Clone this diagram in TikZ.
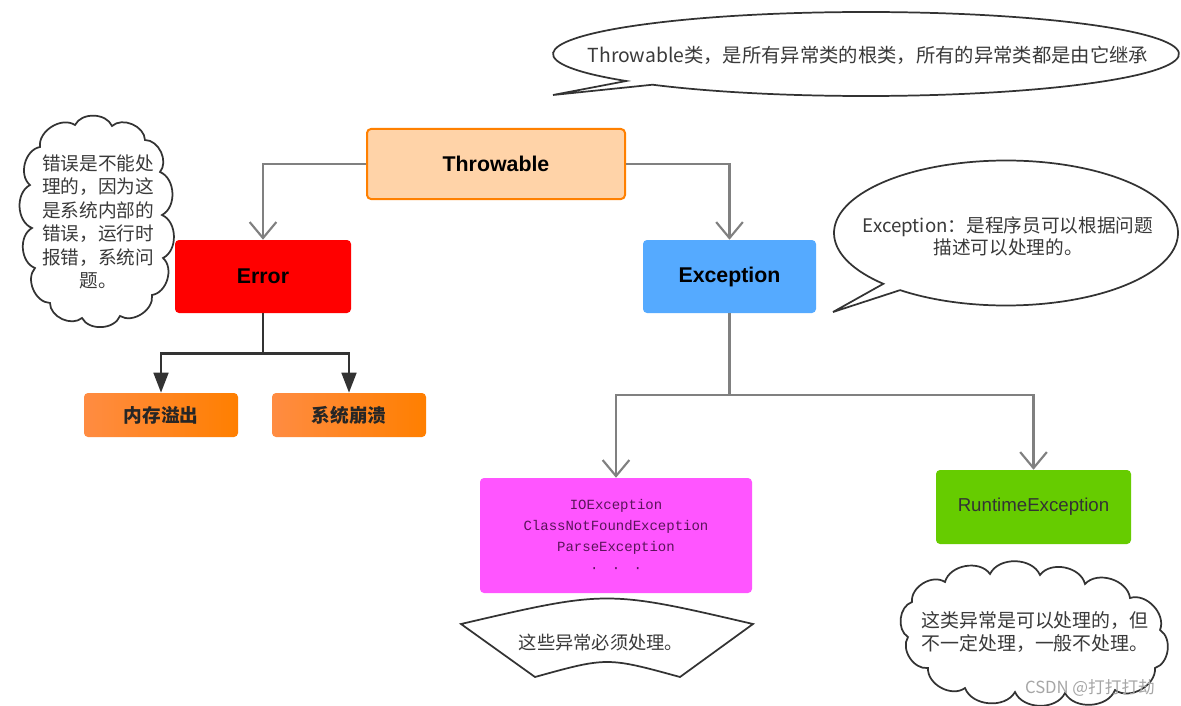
\documentclass[tikz,border=0pt]{standalone}
\usepackage{fontspec}
\setmainfont{Liberation Sans}
\newfontfamily\cjk{Noto Sans CJK SC}
\newfontfamily\monof{Liberation Mono}
\usetikzlibrary{arrows.meta,calc}
\definecolor{garr}{HTML}{808080}
\definecolor{darr}{HTML}{333333}
\definecolor{txt}{HTML}{3A3A3A}
\tikzset{
  box/.style={rounded corners=3pt,inner sep=0pt,align=center},
  boldlbl/.style={font=\fontsize{16}{19}\selectfont\bfseries,text=black},
  garrow/.style={draw=garr,line width=1.8pt,-{Straight Barb[length=12pt,width=20pt,line width=1.6pt]}},
  dline/.style={draw=darr,line width=2pt},
  darrow/.style={dline,-{Triangle[length=15pt,width=11pt]}},
  bubble/.style={draw=black!80,line width=1.3pt,fill=white},
  puff/.style={bend left=65},
  note/.style={font=\cjk\fontsize{14.5}{17.6}\selectfont,text=txt,align=center,inner sep=0pt},
}
\begin{document}
\begin{tikzpicture}[x=0.75pt,y=-0.75pt]
\useasboundingbox[fill=white] (0,0) rectangle (1181,706);

% Top speech bubble
\coordinate (tb) at (866,54);
\coordinate (tbtip) at (553,95);
\draw[bubble] (tb) ++(133:313 and 42) arc[start angle=133,end angle=-220,x radius=313,y radius=42] -- (tbtip) -- cycle;
\node[note,font=\cjk\fontsize{14.5}{17}\selectfont] (tbtext) at (868,55) {Throwable类，是所有异常类的根类，所有的异常类都是由它继承};

% Right speech bubble
\coordinate (rb) at (1006,233);
\coordinate (rbtip) at (833,312);
\draw[bubble] (rb) ++(128:172 and 72.5) arc[start angle=128,end angle=-224.5,x radius=172,y radius=72.5] -- (rbtip) -- cycle;
\node[note,font=\cjk\fontsize{14}{16.5}\selectfont] (rbtext) at (1008,236) {Exception：是程序员可以根据问题\\描述可以处理的。};

% Left cloud
\draw[bubble] (40,147) to[puff] (75,125) to[puff] (112,126) to[puff] (145,140)
  to[puff] (160,172) to[puff] (162,215) to[puff] (163,258) to[puff] (152,295)
  to[puff] (120,316) to[puff] (82,318) to[puff] (50,303) to[puff] (35,268)
  to[puff] (32,228) to[puff] (30,185) to[puff] (40,147) -- cycle;
\node[note,font=\cjk\fontsize{14}{17.6}\selectfont] (lctext) at (98,222) {错误是不能处\\理的，因为这\\是系统内部的\\错误，运行时\\报错，系统问\\题。};

% Bottom cloud
\draw[bubble] (912,602) to[puff] (945,582) to[puff] (990,574) to[puff] (1040,575)
  to[puff] (1085,584) to[puff] (1130,598) to[puff] (1160,630) to[puff] (1155,668)
  to[puff] (1115,690) to[puff] (1065,693) to[puff] (1015,692) to[puff] (965,688)
  to[puff] (928,668) to[puff] (908,637) to[puff] (912,602) -- cycle;
\node[note,font=\cjk\fontsize{14.2}{16.8}\selectfont] (bctext) at (1035,632) {这类异常是可以处理的，但\\不一定处理，一般不处理。};

% Boxes
\node[box,fill={rgb,255:red,255;green,211;blue,168},draw={rgb,255:red,255;green,128;blue,0},line width=1.5pt,minimum width=193.5pt,minimum height=52.5pt,boldlbl] (throw) at (496,164) {Throwable};
\node[box,fill={rgb,255:red,255;green,0;blue,0},minimum width=132pt,minimum height=54.75pt,boldlbl] (err) at (263,276.5) {Error};
\node[box,fill={rgb,255:red,85;green,170;blue,255},minimum width=129.75pt,minimum height=54.75pt,boldlbl] (exc) at (729.5,276.5) {Exception};
\node[box,left color={rgb,255:red,255;green,140;blue,66},right color={rgb,255:red,255;green,127;blue,0},minimum width=115.5pt,minimum height=33pt,font=\cjk\fontsize{14}{16}\selectfont\bfseries,text=black!85] (mem) at (161,415) {内存溢出};
\node[box,left color={rgb,255:red,255;green,140;blue,66},right color={rgb,255:red,255;green,127;blue,0},minimum width=115.5pt,minimum height=33pt,font=\cjk\fontsize{14}{16}\selectfont\bfseries,text=black!85] (crash) at (349,415) {系统崩溃};
\node[box,fill={rgb,255:red,255;green,85;blue,255},minimum width=204pt,minimum height=86.25pt,font=\monof\fontsize{10.5}{15.75}\selectfont,text={rgb,255:red,90;green,20;blue,90}] (checked) at (616,535.5) {IOException\\ClassNotFoundException\\ParseException\\·\hspace{10pt}·\hspace{10pt}·};
\node[box,fill={rgb,255:red,102;green,204;blue,0},minimum width=146.25pt,minimum height=55.5pt,font=\fontsize{14}{17}\selectfont,text=darr] (rt) at (1033.5,507) {RuntimeException};

% Banner
\coordinate (bn1) at (461,624);
\coordinate (bn2) at (753,624);
\coordinate (bn3) at (680,677);
\coordinate (bn4) at (535,677);
\draw[bubble] (bn1) .. controls (607,590) .. (bn2) -- (bn3) .. controls (607,657) .. (bn4) -- cycle;
\node[note,font=\cjk\fontsize{13.7}{16}\selectfont] (bntext) at (601,643) {这些异常必须处理。};

% Connectors
\draw[garrow] (throw.west) -| (err.north);
\draw[garrow] (throw.east) -| (exc.north);
\draw[dline] (err.south) -- ++(0,40) coordinate (ej);
\draw[darrow] (ej) -| (mem.north);
\draw[darrow] (ej) -| (crash.north);
\draw[draw=garr,line width=1.8pt] (exc.south) -- ++(0,82) coordinate (xj);
\draw[garrow] (xj) -| (checked.north);
\draw[garrow] (xj) -| (rt.north);

% Watermark
\node[font=\cjk\fontsize{12.5}{15}\selectfont,text=black!35] (wm) at (1090,688) {CSDN @打打打劫};
\end{tikzpicture}
\end{document}
